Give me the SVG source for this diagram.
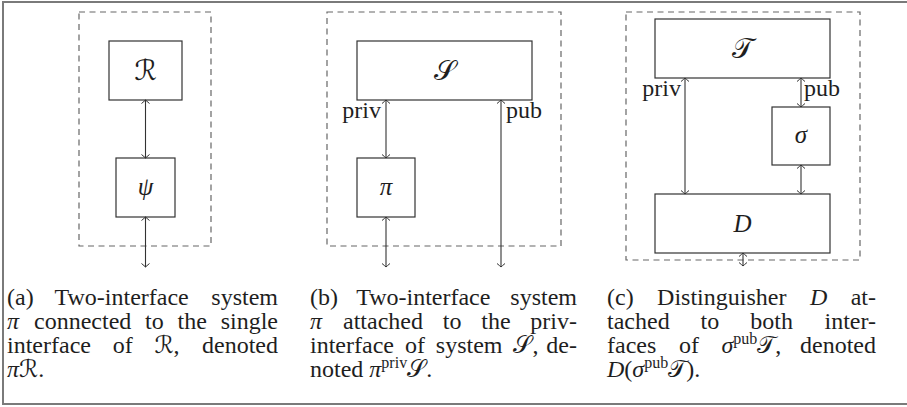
<svg xmlns="http://www.w3.org/2000/svg" width="907" height="407" viewBox="0 0 907 407">
<style>
.frame{fill:#fff;stroke:#7a7a7a;stroke-width:2}
.dash{fill:none;stroke:#666;stroke-width:1.2;stroke-dasharray:6,4.5}
.box{fill:#fff;stroke:#333;stroke-width:1.2}
.conn{fill:none;stroke:#333;stroke-width:1.1;marker-start:url(#tip);marker-end:url(#tip)}
text{font-family:"Liberation Serif","DejaVu Serif",serif;fill:#1e1e1e}
.lbl{font-size:25px;text-anchor:middle}
.big{font-size:28px}
.cal{font-family:"DejaVu Serif","DejaVu Sans","Liberation Serif",serif}
.it{font-style:italic}
.iface{font-size:24px}
.cap{font-size:24px}
.sup{font-size:16px}
</style>
<defs>
<marker id="tip" viewBox="-5 -5 6 10" refX="0" refY="0" markerWidth="6" markerHeight="10" markerUnits="userSpaceOnUse" orient="auto-start-reverse">
<path d="M-3.5,-4 Q-1,-1 0,0 Q-1,1 -3.5,4" fill="none" stroke="#333" stroke-width="1"/>
</marker>
</defs>
<rect class="frame" x="3" y="2" width="906" height="402"/>

<g id="panel-a">
<rect class="dash" x="79" y="12" width="132" height="234"/>
<g id="node-R"><rect class="box" x="109" y="41" width="73" height="59"/><text class="lbl big cal" x="145.5" y="80">ℛ</text></g>
<g id="node-psi"><rect class="box" x="116" y="158" width="59" height="59"/><text class="lbl it" x="145.5" y="195">ψ</text></g>
</g>

<g id="panel-b">
<rect class="dash" x="327" y="12" width="234" height="234"/>
<g id="node-S"><rect class="box" x="357" y="41" width="175" height="59"/><text class="lbl big cal" x="444.5" y="80">𝒮</text></g>
<g id="node-pi"><rect class="box" x="357" y="158" width="58" height="59"/><text class="lbl it" x="386" y="195">π</text></g>
<text class="iface" x="381" y="118" text-anchor="end">priv</text>
<text class="iface" x="506" y="118">pub</text>
</g>

<g id="panel-c">
<rect class="dash" x="626" y="12" width="234" height="248"/>
<g id="node-T"><rect class="box" x="655" y="19" width="175" height="59"/><text class="lbl big cal" x="742.5" y="58">𝒯</text></g>
<g id="node-sigma"><rect class="box" x="772" y="107" width="58" height="58"/><text class="lbl it" x="801" y="143">σ</text></g>
<g id="node-D"><rect class="box" x="655" y="194" width="175" height="59"/><text class="lbl it" x="742.5" y="232">D</text></g>
<text class="iface" x="681" y="96" text-anchor="end">priv</text>
<text class="iface" x="804" y="96">pub</text>
</g>

<g id="connectors">
<line class="conn" x1="145.5" y1="100" x2="145.5" y2="158"/>
<line class="conn" x1="145.5" y1="217" x2="145.5" y2="267"/>
<line class="conn" x1="386" y1="100" x2="386" y2="158"/>
<line class="conn" x1="386" y1="217" x2="386" y2="267"/>
<line class="conn" x1="501" y1="100" x2="501" y2="267"/>
<line class="conn" x1="685" y1="78" x2="685" y2="194"/>
<line class="conn" x1="801" y1="78" x2="801" y2="107"/>
<line class="conn" x1="801" y1="165" x2="801" y2="194"/>
<line class="conn" x1="743" y1="253" x2="743" y2="266"/>
</g>

<g id="caption-a" class="cap">
<text x="7" y="305">(a)</text><text x="54.5" y="305">Two-interface</text><text x="278" y="305" text-anchor="end">system</text>
<text x="7" y="329" class="it">π</text><text x="34" y="329">connected</text><text x="145.1" y="329">to</text><text x="177.6" y="329">the</text><text x="278" y="329" text-anchor="end">single</text>
<text x="7" y="353">interface</text><text x="112.7" y="353">of</text><text x="154.4" y="353"><tspan class="cal">ℛ</tspan>,</text><text x="278" y="353" text-anchor="end">denoted</text>
<text x="7" y="377"><tspan class="it">π</tspan><tspan class="cal">ℛ</tspan>.</text>
</g>

<g id="caption-b" class="cap">
<text x="310" y="305">(b)</text><text x="356.2" y="305">Two-interface</text><text x="577" y="305" text-anchor="end">system</text>
<text x="310" y="329" class="it">π</text><text x="343" y="329">attached</text><text x="442.8" y="329">to</text><text x="481.3" y="329">the</text><text x="577" y="329" text-anchor="end">priv-</text>
<text x="310" y="353">interface</text><text x="404.9" y="353">of</text><text x="435.8" y="353">system</text><text x="513.4" y="353"><tspan class="cal">𝒮</tspan>,</text><text x="577" y="353" text-anchor="end">de-</text>
<text x="310" y="377">noted <tspan class="it">π</tspan><tspan class="sup" dy="-9">priv</tspan><tspan class="cal" dy="9">𝒮</tspan>.</text>
</g>

<g id="caption-c" class="cap">
<text x="607" y="305">(c)</text><text x="657.1" y="305">Distinguisher</text><text x="809.9" y="305" class="it">D</text><text x="876" y="305" text-anchor="end">at-</text>
<text x="607" y="329">tached</text><text x="700.6" y="329">to</text><text x="750.3" y="329">both</text><text x="876" y="329" text-anchor="end">inter-</text>
<text x="607" y="353">faces</text><text x="678.9" y="353">of</text><text x="721.5" y="353"><tspan class="it">σ</tspan><tspan class="sup" dy="-9">pub</tspan><tspan class="cal" dy="9">𝒯</tspan>,</text><text x="876" y="353" text-anchor="end">denoted</text>
<text x="607" y="377"><tspan class="it">D</tspan>(<tspan class="it">σ</tspan><tspan class="sup" dy="-9">pub</tspan><tspan class="cal" dy="9">𝒯</tspan>).</text>
</g>
</svg>
